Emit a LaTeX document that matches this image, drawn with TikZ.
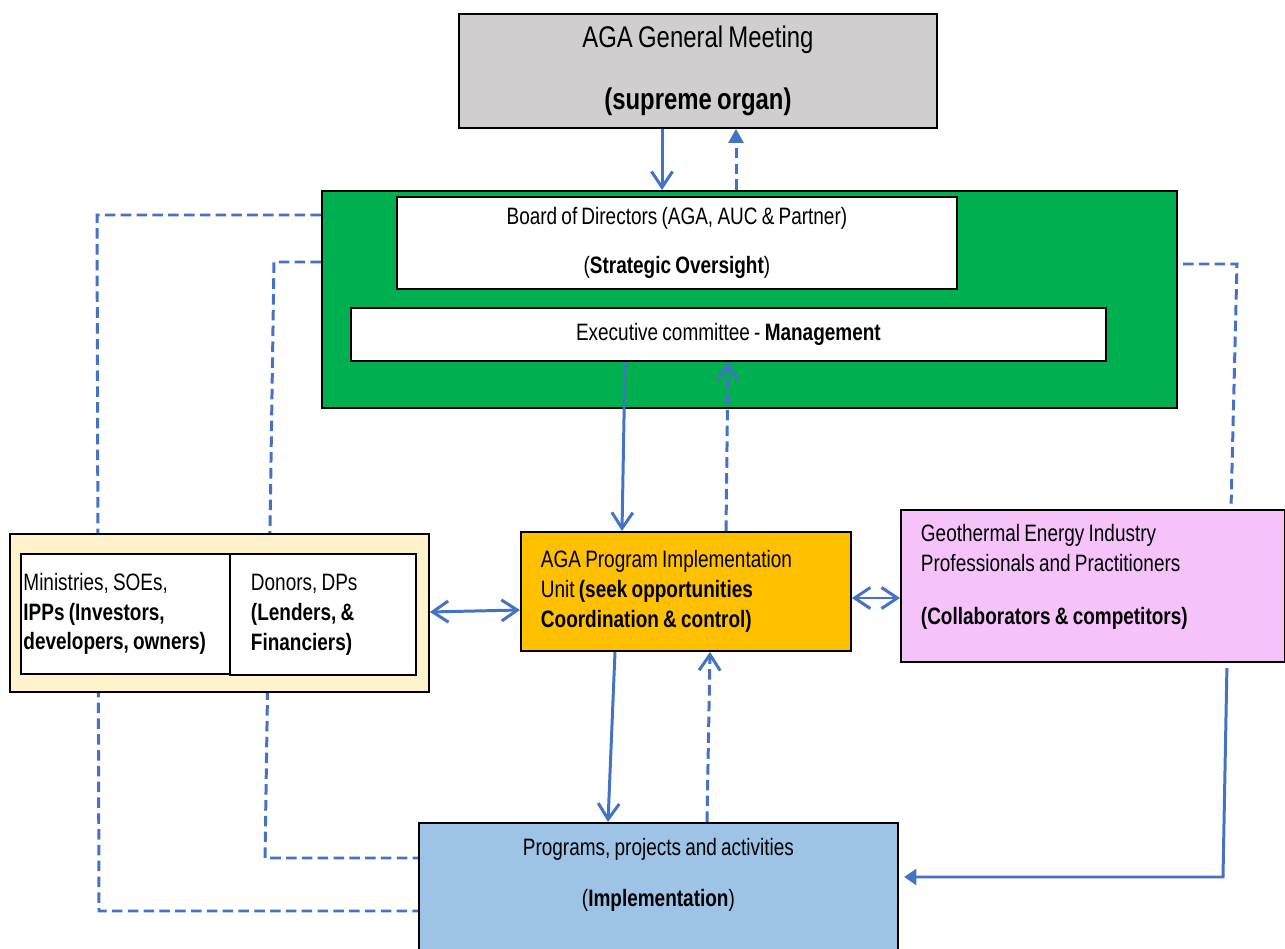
\documentclass[tikz,border=0pt]{standalone}
\usepackage{fontspec}
\setmainfont{Liberation Sans}[FakeStretch=0.8,WordSpace=0.8]
\usetikzlibrary{arrows.meta}

\definecolor{gmgray}{HTML}{D0CECE}
\definecolor{boardgreen}{HTML}{00B050}
\definecolor{piuorange}{HTML}{FFC000}
\definecolor{stakecream}{HTML}{FFF2CC}
\definecolor{geopink}{HTML}{F5C3FA}
\definecolor{progblue}{HTML}{9DC3E6}
\definecolor{arrowblue}{HTML}{4472C4}

\begin{document}
\begin{tikzpicture}[x=0.02cm,y=-0.02cm,
    box/.style={draw=black,line width=1.1pt,inner sep=0pt,anchor=north west},
    txt/.style={font=\fontsize{13.5}{17}\selectfont},
    link/.style={draw=arrowblue,line width=1.7pt,dash pattern=on 6pt off 3pt},
    flow/.style={draw=arrowblue,line width=1.7pt,-{Straight Barb[length=9pt,width=12pt]}},
    back/.style={flow,dash pattern=on 6pt off 3pt},
    twoway/.style={flow,{Straight Barb[length=9pt,width=12pt]}-{Straight Barb[length=9pt,width=12pt]}}]
        \useasboundingbox (0,0) rectangle (1285,949);

        \node[box,fill=gmgray,minimum width=9.56cm,minimum height=2.28cm,align=center,
          font=\fontsize{17}{20}\selectfont] (gm) at (458,13)
          {AGA General Meeting\\[15pt]\textbf{(supreme organ)}};
        \node[box,fill=boardgreen,minimum width=17.1cm,minimum height=4.34cm] (board) at (321,190) {};
        \node[box,fill=white,minimum width=11.2cm,minimum height=1.84cm,txt,align=center] (bod) at (396,196)
          {Board of Directors (AGA, AUC \& Partner)\\[10.8pt](\textbf{Strategic Oversight})};
        \node[box,fill=white,minimum width=15.1cm,minimum height=1.06cm,txt] (exec) at (350,307)
          {Executive committee - \textbf{Management}};
        \node[box,fill=piuorange,minimum width=6.6cm,minimum height=2.38cm,txt,text width=5.8cm,align=flush left] (piu) at (520,531)
          {AGA Program Implementation\\Unit \textbf{(seek opportunities}\\\textbf{Coordination \& control)}};
        \node[box,fill=geopink,minimum width=7.68cm,minimum height=3.04cm] (geo) at (900,509) {};
        \node[txt,text width=6.88cm,align=flush left] (geotext) at ([yshift=0.18cm]geo.center)
          {Geothermal Energy Industry\\Professionals and Practitioners\\[13pt]\textbf{(Collaborators \& competitors)}};
        \node[box,fill=progblue,minimum width=9.58cm,minimum height=2.76cm] (prog) at (418,822) {};
        \node[txt,align=center] (progtext) at ([yshift=0.34cm]prog.center)
          {Programs, projects and activities\\[12pt](\textbf{Implementation})};

        % dashed feedback lines, behind the stakeholder boxes
        \coordinate (l1a) at (97,215);
        \coordinate (l1b) at (99,911);
        \coordinate (l2a) at (274,262);
        \coordinate (l2b) at (265,858);
        \draw[link] (board.west |- l1a) -- (l1a) -- (l1b) -- (prog.west |- l1b);
        \draw[link] (board.west |- l2a) -- (l2a) -- (l2b) -- (prog.west |- l2b);

        \node[box,fill=stakecream,minimum width=8.38cm,minimum height=3.16cm] (stake) at (9,533) {};
        \node[box,fill=white,minimum width=4.2cm,minimum height=2.4cm,txt,text width=4.1cm,align=flush left] (mins) at (20,553)
          {Ministries, SOEs,\\\textbf{IPPs (Investors,}\\\textbf{developers, owners)}};
        \node[box,fill=white,minimum width=3.72cm,minimum height=2.42cm,txt,text width=2.88cm,align=flush left] (donors) at (229,553)
          {Donors, DPs\\\textbf{(Lenders, \&}\\\textbf{Financiers)}};

        \draw[flow] (gm.south -| 662,0) -- (board.north -| 662,0);
        \draw[back,-{Triangle[length=8pt,width=8.5pt]}] (board.north -| 736,0) -- (gm.south -| 736,0);
        \draw[flow] (exec.south -| 625,0) -- (piu.north -| 622,0);
        \draw[back] (piu.north -| 726,0) -- (exec.south -| 728,0);
        \draw[flow] (piu.south -| 615,0) -- (prog.north -| 608,0);
        \draw[back] (prog.north -| 707,0) -- (piu.south -| 710,0);
        \draw[twoway] (stake.east |- 0,612) -- (piu.west |- 0,610);
        \draw[twoway] (piu.east |- 0,598) -- (geo.west |- 0,598);

        \coordinate (g1) at (1237,264);
        \coordinate (g2) at (1223,877);
        \draw[link,shorten <=3pt,shorten >=3pt] (board.east |- g1) -- (g1) -- (geo.north -| 1231,0);
        \draw[flow,-{Triangle[length=7pt,width=9pt]},shorten <=3pt,shorten >=3pt]
          (geo.south -| 1227,0) -- (g2) -- (prog.east |- g2);

      \end{tikzpicture}
\end{document}
